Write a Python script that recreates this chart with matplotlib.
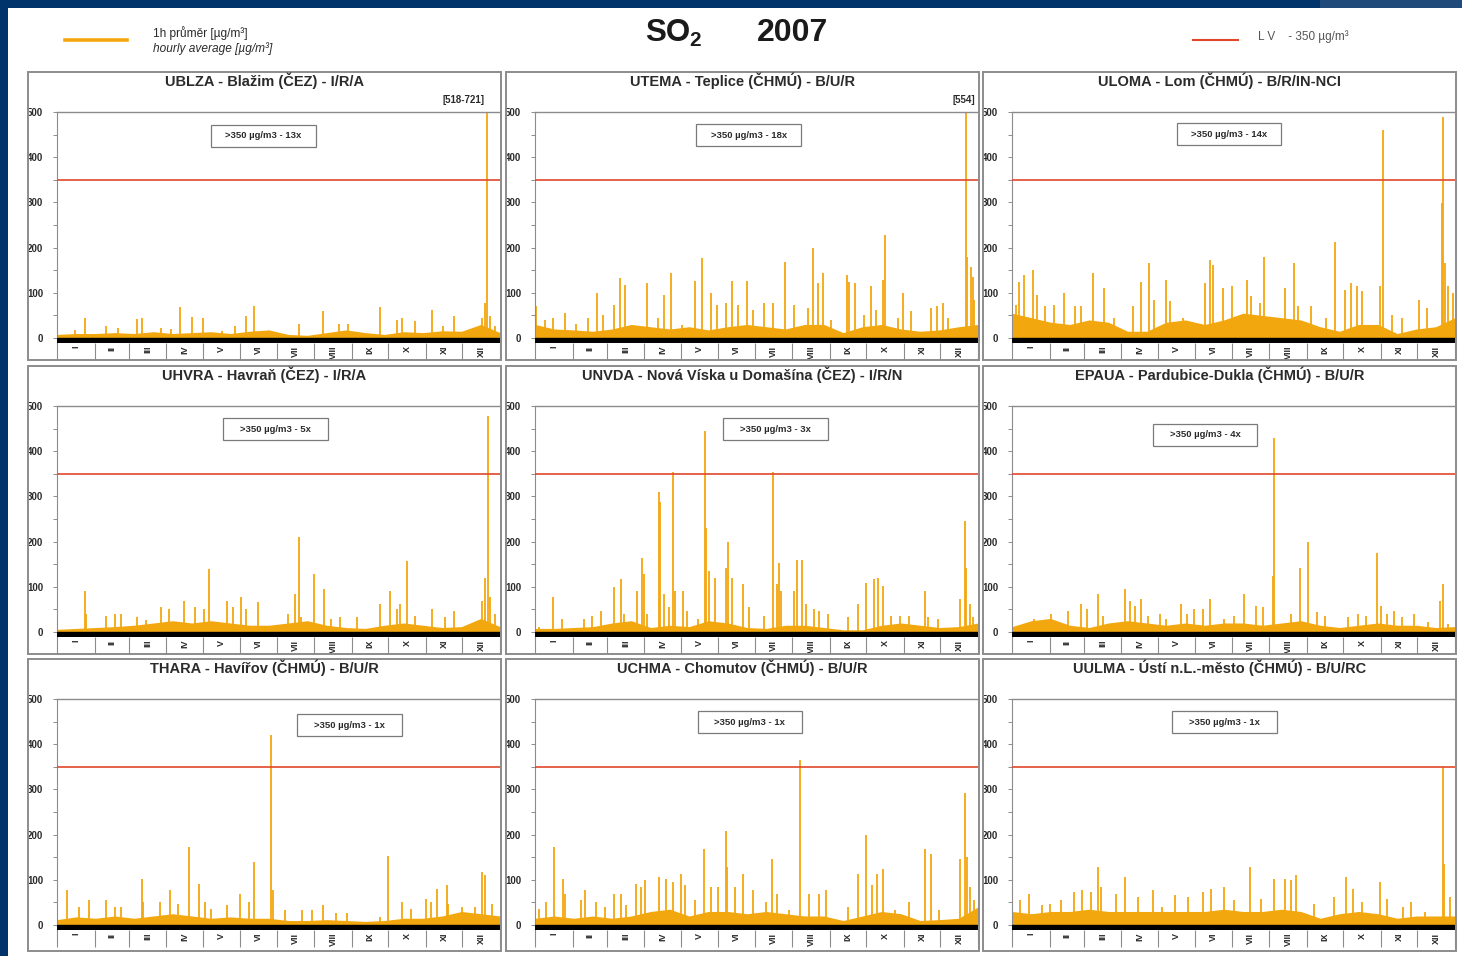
import matplotlib
matplotlib.use('Agg')
import numpy as np
import matplotlib.pyplot as plt
from matplotlib.patches import Rectangle
from matplotlib.lines import Line2D

plt.rcParams['font.family'] = ['Liberation Sans', 'DejaVu Sans']

# --- data (day of year, ug/m3) ---
months = ['I', 'II', 'III', 'IV', 'V', 'VI', 'VII', 'VIII', 'IX', 'X', 'XI', 'XII']
month_edges = [0, 31, 59, 90, 120, 151, 181, 212, 243, 273, 304, 334, 365]
limit_value = 350

# half-month floor level of the hourly series
ublza_base = [8, 10, 10, 12, 10, 14, 10, 12, 14, 10, 15, 18, 8, 6, 12, 18, 12, 8, 14, 12, 16, 15, 30, 12]
utema_base = [30, 20, 18, 15, 20, 30, 25, 20, 25, 18, 25, 30, 25, 20, 30, 30, 12, 25, 30, 20, 15, 18, 25, 30]
uloma_base = [55, 45, 35, 30, 40, 35, 15, 15, 35, 40, 30, 40, 55, 50, 45, 40, 25, 15, 30, 30, 10, 20, 25, 45]
uhvra_base = [6, 8, 10, 12, 15, 20, 25, 20, 25, 20, 15, 15, 20, 25, 15, 10, 8, 15, 20, 15, 10, 12, 30, 12]
unvda_base = [8, 8, 10, 12, 20, 25, 10, 15, 12, 25, 20, 10, 8, 15, 15, 10, 5, 5, 15, 20, 15, 10, 12, 20]
epaua_base = [12, 25, 30, 15, 10, 20, 25, 20, 15, 20, 15, 20, 20, 15, 20, 25, 15, 10, 15, 20, 15, 15, 10, 12]
thara_base = [12, 18, 15, 20, 15, 20, 25, 20, 15, 18, 15, 15, 10, 10, 12, 10, 8, 10, 15, 15, 20, 30, 25, 20]
uchma_base = [15, 20, 15, 20, 15, 20, 30, 35, 20, 30, 30, 25, 30, 25, 20, 20, 10, 20, 30, 25, 10, 12, 15, 40]
uulma_base = [30, 25, 30, 30, 35, 30, 30, 30, 30, 30, 30, 35, 30, 30, 35, 30, 15, 25, 30, 25, 15, 20, 20, 20]

# individual hourly peaks
ublza_day = [15, 23, 40, 50, 66, 70, 86, 94, 101, 111, 120, 136, 147, 156, 162, 199, 219, 232, 240,
             266, 280, 284, 295, 309, 318, 327, 350, 353, 354.5, 357, 361]
ublza_val = [18, 44, 26, 22, 42, 44, 22, 20, 68, 46, 44, 15, 26, 48, 70, 30, 59, 30, 30,
             68, 40, 44, 37, 61, 26, 48, 44, 77, 721, 48, 26]

utema_day = [1, 8, 15, 25, 34, 44, 51, 56, 65, 70, 74, 85, 92, 101, 106, 112, 121, 132, 138, 145,
             150, 157, 162, 167, 175, 180, 189, 196, 206, 213, 225, 229, 233, 237, 244, 257, 259,
             264, 271, 277, 281, 287, 288, 299, 303, 310, 326, 331, 336, 340, 355, 356, 359, 361,
             362, 364]
utema_val = [70, 40, 44, 55, 30, 44, 99, 51, 74, 132, 118, 26, 121, 44, 96, 143, 29, 127, 176, 99,
             74, 77, 127, 74, 127, 62, 77, 77, 169, 74, 66, 199, 121, 143, 40, 140, 125,
             121, 51, 114, 62, 129, 228, 44, 99, 59, 66, 70, 77, 44, 554, 180, 158, 136,
             85, 26]

uloma_day = [3, 6, 10, 17, 21, 27, 35, 43, 52, 57, 67, 76, 84, 100, 106, 113, 117, 127, 130, 141,
             159, 163, 166, 174, 181, 194, 197, 204, 208, 225, 232, 236, 246, 259, 266, 274, 279,
             284, 288, 303, 306, 313, 321, 335, 342, 354, 355, 357, 359, 363]
uloma_val = [74, 125, 140, 151, 96, 70, 74, 99, 70, 70, 143, 110, 44, 70, 125, 165, 85, 129, 81, 44,
             121, 173, 162, 110, 114, 129, 92, 77, 180, 110, 165, 70, 70, 44, 213, 107, 121,
             114, 103, 114, 460, 51, 44, 85, 66, 298, 489, 165, 114, 99]

uhvra_day = [23, 24, 40, 48, 53, 66, 73, 86, 92, 105, 114, 121, 125, 140, 145, 152, 156, 166, 190,
             196, 199, 201, 212, 220, 226, 233, 247, 266, 274, 280, 283, 288, 295, 309, 320, 327,
             350, 353, 355, 357, 361]
uhvra_val = [91, 40, 36, 40, 40, 33, 26, 55, 51, 69, 55, 51, 139, 69, 55, 77, 51, 66, 40,
             84, 210, 33, 128, 95, 29, 33, 33, 62, 91, 51, 62, 157, 36, 51, 33, 47,
             69, 120, 478, 77, 40]

unvda_day = [3, 15, 22, 40, 47, 54, 65, 71, 73, 84, 88, 90, 92, 102, 103, 106, 110, 114, 115, 122,
             125, 134, 140, 140.5, 143, 148, 157, 159, 162, 171, 176, 189, 196, 199, 201, 203, 213,
             216, 220, 223, 230, 234, 241, 258, 266, 273, 279, 283, 287, 293, 301, 308, 321, 324,
             332, 350, 354, 355, 358, 361]
unvda_val = [11, 77, 29, 29, 36, 47, 99, 117, 40, 91, 164, 128, 40, 310, 288, 84, 55, 354, 91, 91,
             47, 29, 445, 230, 135, 120, 142, 200, 120, 106, 55, 36, 354, 106, 153, 91, 91,
             160, 160, 62, 51, 47, 40, 33, 62, 109, 117, 120, 102, 36, 36, 36, 91, 33,
             29, 73, 245, 142, 62, 33]

epaua_day = [18, 32, 46, 57, 62, 71, 75, 93, 97, 101, 106, 112, 122, 127, 139, 144, 150, 157, 163,
             175, 183, 191, 201, 207, 215, 216, 230, 237, 244, 251, 258, 277, 285, 292, 301, 304,
             309, 315, 321, 331, 343, 353, 355, 359]
epaua_val = [29, 40, 47, 62, 51, 84, 36, 95, 69, 58, 73, 36, 40, 29, 62, 40, 51, 51, 73,
             29, 36, 84, 58, 55, 124, 430, 40, 142, 200, 44, 36, 33, 40, 36, 175, 58,
             40, 47, 33, 40, 22, 69, 106, 18]

thara_day = [8, 18, 26, 40, 48, 53, 70, 71, 85, 93, 100, 109, 117, 122, 127, 140, 151, 158, 162,
             176, 178, 188, 202, 210, 219, 230, 239, 266, 273, 284, 292, 304, 308, 313, 321, 322,
             334, 344, 350, 353, 358]
thara_val = [77, 40, 55, 55, 40, 40, 102, 51, 51, 77, 47, 172, 91, 51, 36, 44, 69, 51, 139,
             420, 77, 33, 33, 33, 44, 26, 26, 18, 153, 51, 36, 58, 51, 80, 88, 47,
             40, 40, 117, 110, 47]

uchma_day = [3, 9, 16, 23, 25, 38, 41, 50, 58, 65, 71, 75, 83, 87, 91, 102, 108, 114, 120, 124,
             132, 139, 145, 151, 157, 158, 165, 171, 180, 190, 195, 199, 209, 218, 226, 234, 240,
             258, 266, 273, 278, 282, 287, 297, 308, 321, 326, 333, 350, 354, 356, 358, 362]
uchma_val = [36, 51, 172, 102, 69, 55, 77, 51, 40, 69, 69, 44, 91, 84, 99, 106, 102, 95, 113, 88,
             55, 168, 84, 84, 208, 128, 84, 113, 77, 51, 146, 69, 33, 365, 69, 69, 77,
             40, 113, 200, 88, 113, 124, 33, 51, 168, 157, 33, 146, 292, 150, 84, 55]

uulma_day = [7, 14, 25, 31, 40, 51, 58, 65, 71, 73, 86, 93, 104, 116, 124, 134, 145, 157, 164, 175,
             183, 196, 205, 216, 225, 230, 234, 249, 265, 275, 281, 288, 303, 309, 322, 329, 340,
             355, 356, 361]
uulma_val = [55, 69, 44, 47, 55, 73, 77, 73, 128, 84, 69, 106, 62, 77, 40, 66, 62, 73, 80, 84,
             55, 128, 58, 102, 102, 99, 110, 47, 62, 106, 80, 51, 95, 58, 40, 51, 29,
             350, 135, 62]

titles = ['UBLZA - Blažim (ČEZ) - I/R/A',
          'UTEMA - Teplice (ČHMÚ) - B/U/R',
          'ULOMA - Lom (ČHMÚ) - B/R/IN-NCI',
          'UHVRA - Havraň (ČEZ) - I/R/A',
          'UNVDA - Nová Víska u Domašína (ČEZ) - I/R/N',
          'EPAUA - Pardubice-Dukla (ČHMÚ) - B/U/R',
          'THARA - Havířov (ČHMÚ) - B/U/R',
          'UCHMA - Chomutov (ČHMÚ) - B/U/R',
          'UULMA - Ústí n.L.-město (ČHMÚ) - B/U/RC']
exceed_counts = [13, 18, 14, 5, 3, 4, 1, 1, 1]
max_notes = ['[518-721]', '[554]', '', '', '', '', '', '', '']

bases = [ublza_base, utema_base, uloma_base, uhvra_base, unvda_base,
         epaua_base, thara_base, uchma_base, uulma_base]
spike_days = [ublza_day, utema_day, uloma_day, uhvra_day, unvda_day,
              epaua_day, thara_day, uchma_day, uulma_day]
spike_vals = [ublza_val, utema_val, uloma_val, uhvra_val, unvda_val,
              epaua_val, thara_val, uchma_val, uulma_val]

# box centres (day, value) where the exceedance label sits
box_pos = [(170, 447), (176, 449), (179, 451), (180, 449), (198, 449),
           (159, 436), (241, 442), (177, 449), (175, 449)]

# --- styling ---
W, H = 1462, 956
orange = '#F3A70F'
red = '#E2472C'
grey = '#8c8c8c'
navy = '#00346a'
txt = '#2b2b2b'

fig = plt.figure(figsize=(W / 100, H / 100), dpi=100)
fig.patch.set_facecolor('white')


def fbox(x, y, w, h):
    # pixel box (top-left origin) -> figure fraction rect
    return [x / W, 1 - (y + h) / H, w / W, h / H]


# navy frame
fig.add_artist(Rectangle((0, 1 - 8 / H), 1320 / W, 8 / H, transform=fig.transFigure,
                         facecolor=navy, edgecolor='none'))
fig.add_artist(Rectangle((1320 / W, 1 - 8 / H), (W - 1320) / W, 8 / H, transform=fig.transFigure,
                         facecolor='#1f4a7a', edgecolor='none'))
fig.add_artist(Rectangle((0, 0), 8 / W, 1, transform=fig.transFigure,
                         facecolor=navy, edgecolor='none'))

# header legend + title
fig.add_artist(Line2D([65 / W, 127 / W], [1 - 40 / H] * 2, color=orange, lw=2.6))
fig.text(153 / W, 1 - 33 / H, '1h průměr [µg/m³]', fontsize=8.6, color=txt, va='center')
fig.text(153 / W, 1 - 49 / H, 'hourly average [µg/m³]', fontsize=8.6, color=txt,
         va='center', style='italic')
fig.text(645 / W, 1 - 33 / H, 'SO', fontsize=22.5, fontweight='bold', color='#1a1a1a', va='center')
fig.text(689 / W, 1 - 41 / H, '2', fontsize=15, fontweight='bold', color='#1a1a1a', va='center')
fig.text(757 / W, 1 - 33 / H, '2007', fontsize=23, fontweight='bold', color='#1a1a1a', va='center')
fig.add_artist(Line2D([1193 / W, 1238 / W], [1 - 40 / H] * 2, color=red, lw=1.5))
fig.text(1258 / W, 1 - 37 / H, 'L V    - 350 µg/m³', fontsize=8.5, color='#555555', va='center')

col_left = [28, 506, 983]
row_top = [72, 366, 659]
panel_w = 473
panel_h = [288, 288, 292]
half_month = np.linspace(0, 365, 24)
month_mid = [(a + b) / 2 for a, b in zip(month_edges[:-1], month_edges[1:])]

for i in range(9):
    r, c = divmod(i, 3)
    L, T = col_left[c], row_top[r]

    # panel frame and title
    fig.add_artist(Rectangle((L / W, 1 - (T + panel_h[r]) / H), panel_w / W, panel_h[r] / H,
                             transform=fig.transFigure, facecolor='none',
                             edgecolor=grey, lw=1.4))
    fig.text((L + panel_w / 2) / W, 1 - (T + 9) / H, titles[i], fontsize=10.5,
             fontweight='bold', color=txt, ha='center', va='center')

    ax = fig.add_axes(fbox(L + 29, T + 40, 443, 231))
    ax.set_xlim(0, 365)
    ax.set_ylim(-11, 500)
    ax.set_facecolor('none')

    ax.fill_between(half_month, 0, bases[i], color=orange, lw=0, zorder=2)
    ax.vlines(spike_days[i], 0, spike_vals[i], color=orange, lw=1.3, zorder=2)
    ax.axhspan(-11, 0, color='black', zorder=3)
    ax.axhline(limit_value, color=red, lw=1.2, zorder=4)

    for s in ['right', 'bottom']:
        ax.spines[s].set_visible(False)
    ax.spines['left'].set_color(grey)
    ax.spines['left'].set_linewidth(0.8)
    ax.spines['top'].set_color(grey)
    ax.spines['top'].set_linewidth(1.0)

    ax.set_xticks(month_edges)
    ax.set_xticklabels([])
    ax.set_xticks(month_mid, minor=True)
    ax.set_xticklabels(months, minor=True, rotation=90, fontsize=6.5,
                       fontweight='bold', color=txt)
    ax.tick_params(axis='x', which='major', length=12, width=0.8, color=grey, direction='out')
    ax.tick_params(axis='x', which='minor', length=0, pad=2)

    ax.set_yticks(range(0, 501, 100))
    ax.set_yticks(range(50, 500, 100), minor=True)
    ax.tick_params(axis='y', which='both', length=3, width=0.7, color=grey,
                   direction='out', labelsize=7, pad=7, labelcolor=txt)
    for lbl in ax.get_yticklabels():
        lbl.set_fontweight('bold')

    # exceedance box
    bx, by = box_pos[i]
    ax.add_patch(Rectangle((bx - 43, by - 24), 86, 48, facecolor='white',
                           edgecolor='#7a7a7a', lw=0.9, zorder=5))
    ax.text(bx, by, f'>{limit_value} µg/m3 - {exceed_counts[i]}x', fontsize=6.8,
            fontweight='bold', color=txt, ha='center', va='center', zorder=6)

    if max_notes[i]:
        top_day = spike_days[i][int(np.argmax(spike_vals[i]))]
        ax.text(top_day - 2, 527, max_notes[i], fontsize=7, fontweight='bold',
                color=txt, ha='right' if i == 0 else 'center', va='center', clip_on=False)

fig.savefig('out.png', dpi=100)
